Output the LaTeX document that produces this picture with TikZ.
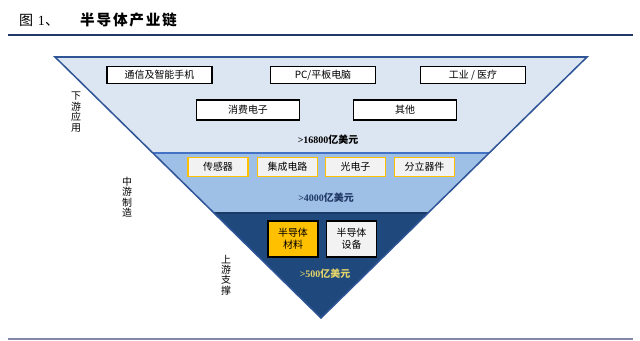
\documentclass[tikz,border=0pt]{standalone}
\usepackage{fontspec}
\setmainfont{Noto Sans CJK SC}
\newfontfamily\numfont{Liberation Serif}
\newfontfamily\titlefont[LetterSpace=12]{Noto Sans CJK SC}
\usepackage{tikz}
\usetikzlibrary{positioning}
\definecolor{bandA}{HTML}{DCE6F2}
\definecolor{bandB}{HTML}{9FC0E6}
\definecolor{bandC}{HTML}{1F497D}
\definecolor{edgeblue}{HTML}{2F5597}
\definecolor{midblue}{HTML}{4472C4}
\definecolor{gold}{HTML}{FFC000}
\definecolor{boxgray}{HTML}{F2F2F2}
\definecolor{navy}{HTML}{1F3864}
\definecolor{paleyellow}{HTML}{E2D46A}
\definecolor{rulegray}{HTML}{8486A8}
\tikzset{
 appbox/.style={draw=black,line width=1.3pt,fill=white,inner sep=0pt,
  minimum width=3.15cm,minimum height=0.5cm,font=\fontsize{8.5}{10}\selectfont},
 chipbox/.style={draw=gold,line width=1.3pt,fill=boxgray,inner sep=0pt,
  minimum width=1.8cm,minimum height=0.56cm,font=\fontsize{8.5}{10}\selectfont},
 supbox/.style={draw=black,line width=1.3pt,inner sep=0pt,align=center,
  minimum width=1.5cm,minimum height=1.07cm,font=\fontsize{8.5}{10}\selectfont},
 sidelabel/.style={align=center,inner sep=0pt,font=\fontsize{8.5}{8.9}\selectfont},
 value/.style={inner sep=0pt,font=\bfseries\fontsize{8.5}{10}\selectfont}
}
\begin{document}
\begin{tikzpicture}[x=0.03cm,y=-0.03cm]
 \useasboundingbox (0,0) rectangle (640,341);
 % title and rules
 \node[anchor=west,inner sep=0pt] (fig) at (19,20) {\fontsize{12}{14}\selectfont 图\,\,{\numfont 1}、};
 \node[anchor=west,inner sep=0pt] (title) at (80,20) {\titlefont\bfseries\fontsize{12.5}{14}\selectfont 半导体产业链};
 \draw[navy,line width=1.1pt] (8,35) -- (633,35);
 \draw[rulegray,line width=0.9pt] (8,339) -- (633,339);
 % bands of the funnel
 \fill[bandA] (55,57) -- (587,57) -- (489,153) -- (153,153) -- cycle;
 \fill[bandB] (153,153) -- (489,153) -- (428,213) -- (214,213) -- cycle;
 \fill[bandC] (214,213) -- (428,213) -- (321,318) -- cycle;
 \draw[midblue,line width=1.6pt] (153,153) -- (489,153);
 \draw[bandC!80!black,line width=1.2pt] (214,213) -- (428,213);
 \draw[edgeblue,line width=1.3pt,line join=miter] (321,318) -- (55,57) -- (587,57) -- cycle;
 % downstream
 \node[appbox] (phone) at (159.5,75) {通信及智能手机};
 \node[appbox] (pc) at (323,75) {PC/平板电脑};
 \node[appbox] (ind) at (473,75) {工业 / 医疗};
 \node[appbox,minimum width=3.1cm,minimum height=0.6cm] (cons) at (248,110) {消费电子};
 \node[appbox,minimum width=3.1cm,minimum height=0.6cm] (other) at (405,110) {其他};
 \node[value] (v1) at (328,140) {{\numfont\bfseries >16800}亿美元};
 % midstream
 \node[chipbox] (sensor) at (218,167) {传感器};
 \node[chipbox] (ic) at (287.5,167) {集成电路};
 \node[chipbox] (opto) at (355.5,167) {光电子};
 \node[chipbox] (disc) at (424.5,167) {分立器件};
 \node[value,text=navy] (v2) at (326,198) {{\numfont\bfseries >4000}亿美元};
 % upstream
 \node[supbox,fill=gold] (mat) at (293,239) {半导体\\材料};
 \node[supbox,fill=boxgray] (equip) at (351.5,239) {半导体\\设备};
 \node[value,text=paleyellow] (v3) at (325,274) {{\numfont\bfseries >500}亿美元};
 % side labels
 \node[sidelabel] (down) at (76,112) {下\\游\\应\\用};
 \node[sidelabel] (mid) at (127,197) {中\\游\\制\\造};
 \node[sidelabel] (up) at (226,275) {上\\游\\支\\撑};
\end{tikzpicture}
\end{document}
